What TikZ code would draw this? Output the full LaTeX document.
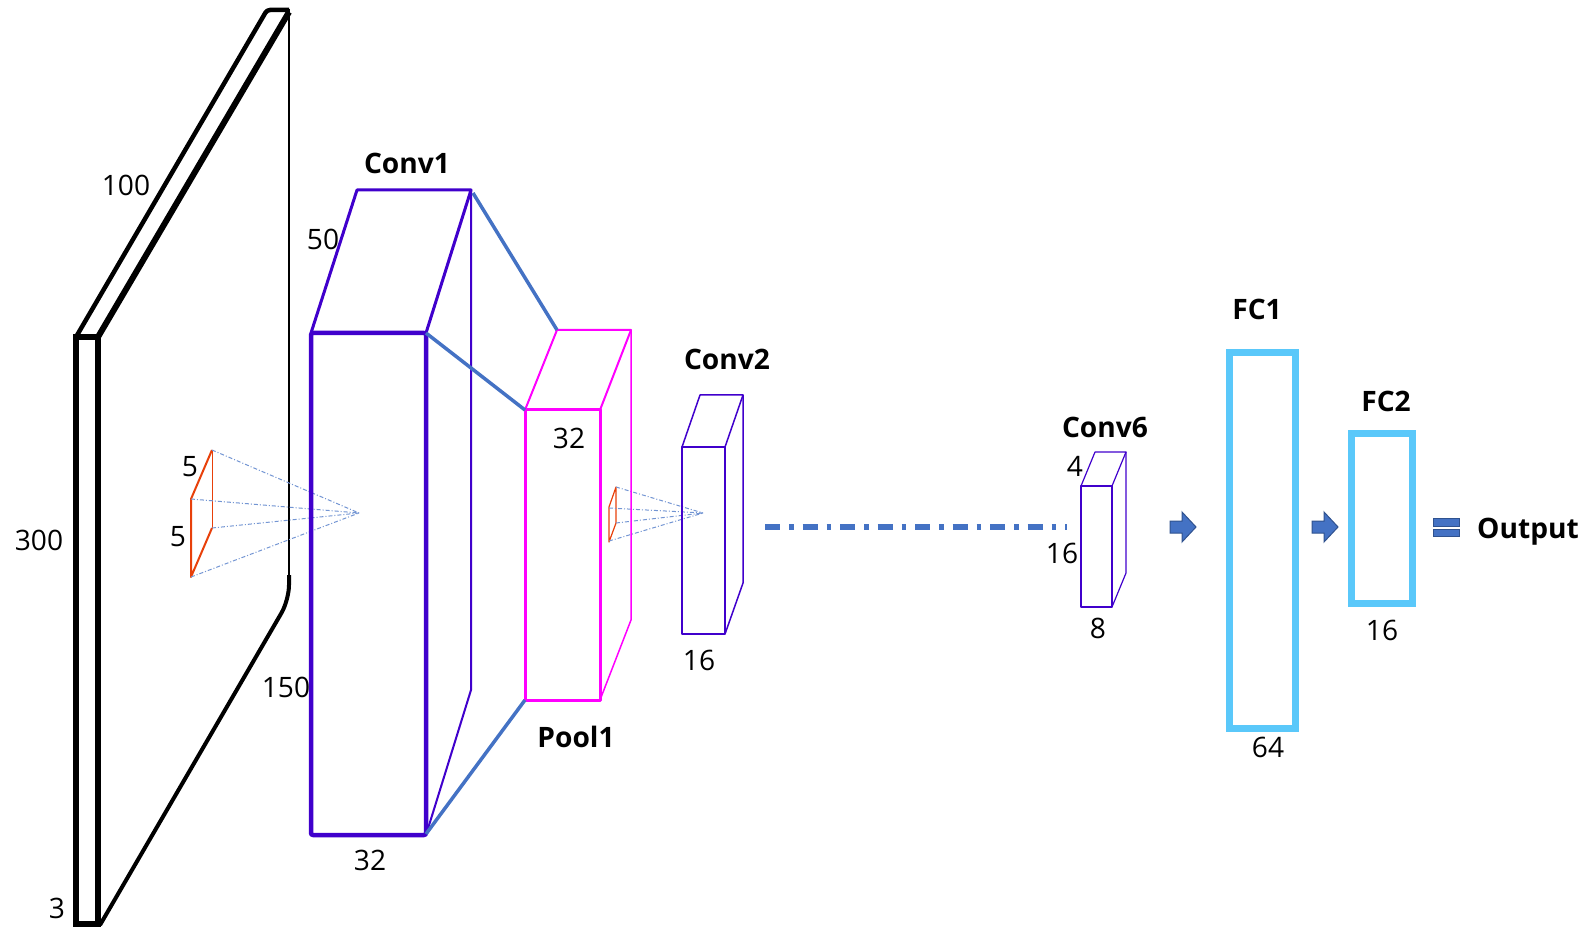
\documentclass[tikz,border=0pt]{standalone}
\usepackage{fontspec}
\setmainfont{Open Sans}
\usepackage{xcolor}
\usepackage{tikz}
\usetikzlibrary{arrows.meta,positioning,calc}

\definecolor{convblue}{RGB}{64,0,204}
\definecolor{poolpink}{RGB}{255,0,255}
\definecolor{linkblue}{RGB}{68,114,196}
\definecolor{kernelred}{RGB}{232,64,10}
\definecolor{fcblue}{RGB}{90,200,250}
\definecolor{arrowedge}{RGB}{47,82,143}

\tikzset{
  dimlabel/.style={font=\fontsize{8}{9}\selectfont, inner sep=0pt, text depth=0pt},
  layername/.style={font=\fontsize{8}{9}\selectfont\bfseries, inner sep=0pt, text depth=0pt},
  convedge/.style={convblue, line join=round},
  pooledge/.style={poolpink, line join=round},
  kernel/.style={kernelred, line width=0.02cm, line join=round},
  ray/.style={linkblue!75, line width=0.01cm, dash pattern=on 0.04cm off 0.02cm on 0.01cm off 0.02cm},
  link/.style={linkblue, line width=0.035cm},
  fcbox/.style={fcblue, line width=0.07cm},
  blockarrow/.style={draw=arrowedge, fill=linkblue, line width=0.01cm}
}

\begin{document}
\begin{tikzpicture}[x=0.01cm,y=-0.01cm]
\useasboundingbox (0,0) rectangle (1583,931);

% input image
\draw[line width=0.06cm] (76,337) rectangle (98,924);
\draw[line width=0.045cm, rounded corners=0.03cm] (76,337) -- (267,10) -- (289,10);
\draw[line width=0.06cm] (98,337) -- (289,12);
\draw[line width=0.025cm] (289,9) -- (289,585);
\draw[line width=0.04cm, rounded corners=0.15cm] (289,575) -- (289,600) -- (100,925);

% kernels and their rays
\draw[kernel] (212,528) -- (191,577) -- (191,499) -- (212,450);
\draw[kernel, line width=0.01cm] (212,450) -- (212,528);
\coordinate (apex1) at (359,513);
\foreach \p in {(212,450),(191,499),(212,528),(191,577)}
  \draw[ray] \p -- (apex1);

\draw[kernel, line width=0.012cm] (616,487) -- (609,507) -- (609,542) -- (616,523) -- cycle;
\coordinate (apex2) at (703,513);
\foreach \p in {(616,487),(609,508),(616,523),(609,541)}
  \draw[ray] \p -- (apex2);

% conv1
\draw[convedge, line width=0.045cm, rounded corners=0.02cm] (311,333) rectangle (426,835);
\draw[convedge, line width=0.03cm] (311,333) -- (357,190) -- (471,190) -- (426,333);
\draw[convedge, line width=0.02cm] (471,190) -- (471,690) -- (426,835);
\coordinate (c1top) at (473,193);
\coordinate (c1mid) at (426,333);
\coordinate (c1bot) at (426,834);

% pool1
\draw[pooledge, line width=0.03cm] (525,410) rectangle (600,700);
\draw[pooledge, line width=0.02cm] (525,410) -- (557,330) -- (631,330) -- (600,410);
\draw[pooledge, line width=0.015cm] (631,330) -- (631,620) -- (600,700);
\coordinate (p1top) at (557,330);
\coordinate (p1mid) at (525,410);
\coordinate (p1bot) at (525,700);

\draw[link] (c1top) -- (p1top);
\draw[link] (c1mid) -- (p1mid);
\draw[link] (c1bot) -- (p1bot);

% conv2
\draw[convedge, line width=0.02cm] (682,447) rectangle (725,634);
\draw[convedge, line width=0.015cm] (682,447) -- (700,395) -- (743,395) -- (725,447);
\draw[convedge, line width=0.015cm] (743,395) -- (743,583) -- (725,634);

% conv6
\draw[convedge, line width=0.015cm] (1081,486) rectangle (1112,607);
\draw[convedge, line width=0.012cm] (1081,486) -- (1095,452) -- (1126,452) -- (1112,486);
\draw[convedge, line width=0.012cm] (1126,452) -- (1126,573) -- (1112,607);

\coordinate (gapL) at (765,527);
\coordinate (gapR) at (1067,527);
\draw[linkblue, line width=0.05cm, dash pattern=on 0.15cm off 0.09cm on 0.045cm off 0.09cm] (gapL) -- (gapR);

% fully connected
\draw[fcbox] (1229.5,352.5) rectangle (1295.5,728.5);
\draw[fcbox] (1351.5,433.5) rectangle (1412.5,603.5);

\foreach \ax in {1170,1312}
  \draw[blockarrow] (\ax,521) -- ++(12,0) -- ++(0,-9) -- ++(14,15) -- ++(-14,15) -- ++(0,-9) -- ++(-12,0) -- cycle;
\draw[blockarrow] (1433,518) rectangle (1459,526);
\draw[blockarrow] (1433,529) rectangle (1459,536);

% labels
\node[dimlabel] (inW) at (126,185) {100};
\node[dimlabel] (inH) at (39,540) {300};
\node[dimlabel] (inC) at (57,908) {3};
\node[dimlabel] (c1H) at (286,687) {150};
\node[dimlabel] (c1W) at (323,239) {50};
\node[dimlabel] (k1W) at (190,466) {5};
\node[dimlabel] (k1H) at (178,536) {5};
\node[layername] (conv1) at (407,163) {Conv1};
\node[dimlabel] (c1C) at (370,860) {32};
\node[dimlabel] (p1C) at (569,438) {32};
\node[layername] (pool1) at (576,737) {Pool1};
\node[layername] (conv2) at (727,359) {Conv2};
\node[dimlabel] (c2C) at (699,660) {16};
\node[layername] (conv6) at (1105,427) {Conv6};
\node[dimlabel] (c6W) at (1075,466) {4};
\node[dimlabel] (c6H) at (1062,553) {16};
\node[dimlabel] (c6C) at (1098,628) {8};
\node[layername] (fc1) at (1257,309) {FC1};
\node[layername] (fc2) at (1386,401) {FC2};
\node[dimlabel] (fc1n) at (1268,747) {64};
\node[dimlabel] (fc2n) at (1382,630) {16};
\node[layername] (out) at (1528,528) {Output};
\end{tikzpicture}
\end{document}
